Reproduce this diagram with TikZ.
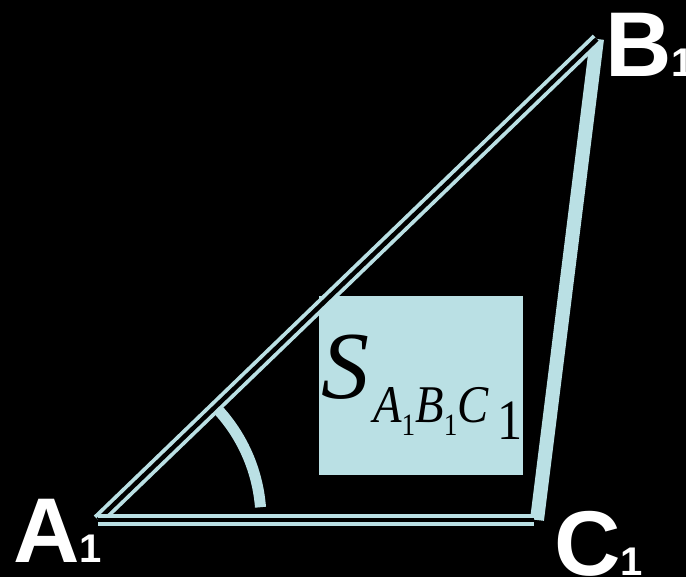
\documentclass[tikz,border=0pt]{standalone}
\usepackage{fontspec}
\usepackage{graphicx}
\setmainfont{Liberation Serif}
\newfontfamily\labfont{Liberation Sans}
\usetikzlibrary{calc,positioning}
\definecolor{PaleCyan}{RGB}{186,224,228}
\tikzset{
  dblside/.style={draw=PaleCyan,double=black,double distance=4.5pt,line width=3.8pt},
  vlabel/.style={anchor=base west,inner sep=0pt,text=white,font=\labfont\bfseries}
}
\newcommand{\vname}[1]{\fontsize{92}{92}\selectfont #1\fontsize{40}{40}\selectfont 1}
\newcommand{\sidx}{\raisebox{-13pt}{\fontsize{31}{31}\selectfont\upshape 1}}

\begin{document}
\begin{tikzpicture}[x=1pt,y=-1pt]
      \fill[black] (0,0) rectangle (686,577);
      \useasboundingbox (0,0) rectangle (686,577);
      \coordinate (A1) at (98,520);
      \coordinate (B1) at (597,39);
      \coordinate (C1) at (537,520);
      % area box
      \fill[PaleCyan] (319,296) rectangle (523,475);
      \node[anchor=base west,inner sep=0pt] (area) at (321,399)
        {\fontsize{96}{96}\selectfont\itshape S\hspace{4pt}\raisebox{-24pt}{\scalebox{0.88}[1]{\fontsize{53}{53}\selectfont
         A\sidx B\sidx C\hspace{10pt}\raisebox{-17pt}{\fontsize{57}{57}\selectfont\upshape 1}}}};
      % sides
      \draw[PaleCyan,line width=14pt] (B1)--(C1);
      \draw[dblside] (A1)--(B1);
      \draw[dblside,shorten >=3pt] (A1)--(C1);
      \draw[PaleCyan,line width=11pt] ([shift={(-4.5:163)}]A1) arc[start angle=-4.5,end angle=-42,radius=163];
      % vertex names
      \node[vlabel] (labA) at (13,562) {\vname{A}};
      \node[vlabel] (labB) at (605,77) {\vname{B}};
      \node[vlabel] (labC) at (554,575) {\vname{C}};
    \end{tikzpicture}
\end{document}
